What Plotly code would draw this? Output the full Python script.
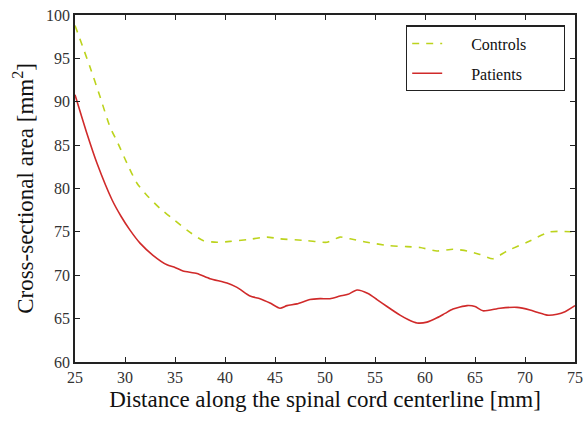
import plotly.graph_objects as go

ctrl_x = [25, 26.5, 27.5, 28.5, 29.3, 30.2, 31.2, 32.2, 33.5, 35, 36.2, 37.8, 39.2, 40.5, 42.2, 44.2, 45.5, 48.2, 50.2,
          51.5, 52.5, 54.2, 56.5, 58.2, 59.5, 61.2, 62.8, 64.2, 65.5, 66.8, 68.2, 70.2, 72.5, 75]
ctrl_y = [98.8, 94.0, 90.6, 87.1, 85.2, 82.9, 80.6, 79.2, 77.7, 76.3, 75.2, 74.0, 73.8, 73.9, 74.1, 74.4, 74.2, 74.0, 73.8,
          74.4, 74.2, 73.8, 73.4, 73.3, 73.2, 72.8, 73.0, 72.8, 72.4, 71.9, 72.8, 73.8, 75.0, 75.0]

pat_x = [25, 26.2, 27.2, 28.7, 29.6, 30.5, 31.5, 32.8, 34.2, 35, 35.8, 37.2, 38.5, 40.2, 41.2, 42.5, 43.5,
         44.5, 45.5, 46.2, 47.2, 48.5, 49.5, 50.5, 51.5, 52.3, 53.2, 54.3, 55.2, 56.2, 57.5, 58.3, 59.2, 60.2,
         61.2, 62.0, 62.8, 64.2, 65.0, 65.8, 67.5, 69.2, 70.5, 71.3, 72.2, 73.2, 74.0, 75]
pat_y = [90.8, 86.3, 82.9, 78.7, 76.8, 75.2, 73.7, 72.3, 71.2, 70.9, 70.5, 70.2, 69.6, 69.1, 68.6, 67.6, 67.3,
         66.8, 66.2, 66.5, 66.7, 67.2, 67.3, 67.3, 67.6, 67.8, 68.3, 67.9, 67.2, 66.4, 65.4, 64.9, 64.5, 64.6,
         65.1, 65.6, 66.1, 66.5, 66.4, 65.9, 66.2, 66.3, 66.0, 65.7, 65.4, 65.5, 65.8, 66.5]

xticks = [25, 30, 35, 40, 45, 50, 55, 60, 65, 70, 75]
yticks = [60, 65, 70, 75, 80, 85, 90, 95, 100]

pad_l = "\u00a0" * 6
pad_r = "\u00a0" * 8
fig = go.Figure()
fig.add_trace(go.Scatter(x=ctrl_x, y=ctrl_y, mode="lines", name=pad_l + "Controls" + pad_r, legendgroup="c",
                         line=dict(color="#bcd31c", width=1.6, dash="7px,7px", shape="spline", smoothing=0.6)))
fig.add_trace(go.Scatter(x=pat_x, y=pat_y, mode="lines", name=pad_l + "Patients" + pad_r, legendgroup="p",
                         line=dict(color="#d02a2a", width=1.6, shape="spline", smoothing=0.6)))

font = "Liberation Serif"
axis_common = dict(showgrid=False, zeroline=False, showline=True, linecolor="#222", linewidth=1.5,
                   mirror="ticks", ticks="inside", ticklen=5, tickwidth=1, tickcolor="#222", automargin=False,
                   tickfont=dict(family=font, size=16, color="#333"))
fig.update_xaxes(range=[25, 75], tickvals=xticks, ticktext=[str(v) for v in xticks],
                 title=dict(text="Distance along the spinal cord centerline [mm]",
                            font=dict(family=font, size=23, color="#111"), standoff=6), **axis_common)
fig.update_yaxes(range=[60, 100], tickvals=yticks, ticktext=[str(v) for v in yticks],
                 title=dict(text="Cross-sectional area [mm<sup>2</sup>]",
                            font=dict(family=font, size=23, color="#111"), standoff=6), **axis_common)

fig.update_layout(
    width=585, height=421, margin=dict(l=75, r=10, t=15, b=59),
    plot_bgcolor="white", paper_bgcolor="white", showlegend=True,
    legend=dict(x=0.98, y=0.97, xanchor="right", yanchor="top", bgcolor="white",
                bordercolor="#222", borderwidth=1.2, traceorder="grouped",
                font=dict(family=font, size=16, color="#111"), tracegroupgap=6,
                itemwidth=30),
)
fig.write_html("out.html")
